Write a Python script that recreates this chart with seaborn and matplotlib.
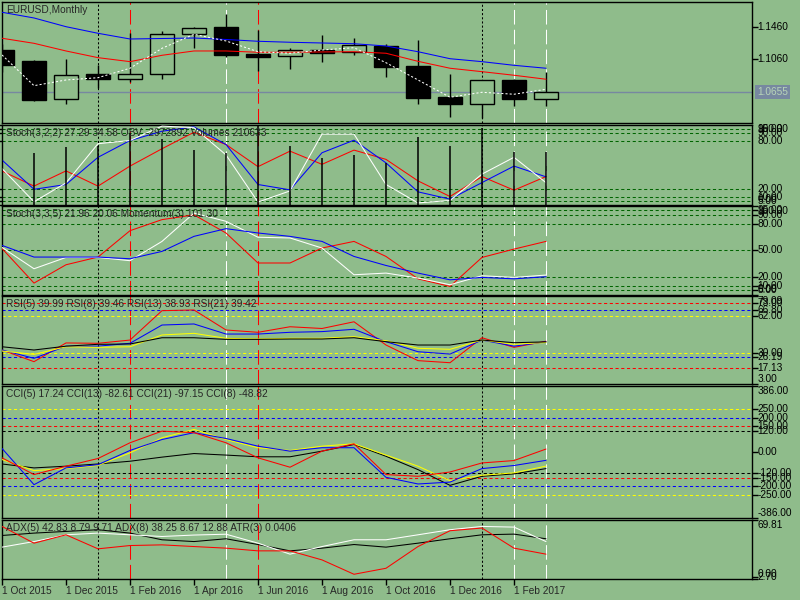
import numpy as np
import pandas as pd
import matplotlib
matplotlib.use('Agg')
import matplotlib.pyplot as plt
import seaborn as sns

# ---- data (EURUSD monthly) ----
months = ['Oct 2015', 'Nov 2015', 'Dec 2015', 'Jan 2016', 'Feb 2016', 'Mar 2016',
          'Apr 2016', 'May 2016', 'Jun 2016', 'Jul 2016', 'Aug 2016', 'Sep 2016',
          'Oct 2016', 'Nov 2016', 'Dec 2016', 'Jan 2017', 'Feb 2017', 'Mar 2017']

open_ = [1.1174, 1.1039, 1.0569, 1.0880, 1.0822, 1.0876, 1.1367, 1.1456, 1.1121,
         1.1097, 1.1170, 1.1146, 1.1223, 1.0978, 1.0594, 1.0515, 1.0806, 1.0577]
high = [1.1250, 1.1051, 1.1064, 1.0986, 1.1379, 1.1407, 1.1460, 1.1616, 1.1420,
        1.1202, 1.1358, 1.1318, 1.1244, 1.1297, 1.0880, 1.0810, 1.0822, 1.0904]
low = [1.0900, 1.0552, 1.0515, 1.0709, 1.0785, 1.0822, 1.1202, 1.1085, 1.0913,
       1.0945, 1.1027, 1.1109, 1.0847, 1.0512, 1.0356, 1.0336, 1.0491, 1.0491]
close = [1.0990, 1.0560, 1.0864, 1.0822, 1.0880, 1.1367, 1.1444, 1.1116, 1.1092,
         1.1170, 1.1141, 1.1232, 1.0969, 1.0589, 1.0515, 1.0802, 1.0573, 1.0655]

ma_slow = [1.1637, 1.1567, 1.1460, 1.1379, 1.1309, 1.1315, 1.1321, 1.1303, 1.1281,
           1.1269, 1.1260, 1.1251, 1.1223, 1.1153, 1.1067, 1.1031, 1.0986, 1.0950]
ma_mid = [1.1318, 1.1256, 1.1162, 1.1080, 1.1031, 1.1109, 1.1162, 1.1162, 1.1146,
          1.1146, 1.1150, 1.1153, 1.1134, 1.1035, 1.0950, 1.0908, 1.0864, 1.0815]
ma_fast = [1.1113, 1.0736, 1.0806, 1.0834, 1.0950, 1.1195, 1.1367, 1.1285, 1.1153,
           1.1134, 1.1174, 1.1202, 1.1018, 1.0806, 1.0594, 1.0655, 1.0631, 1.0692]
last_price = 1.0655

stoch1_main = [45, 3.4, 27, 76, 80, 98, 96, 62, 3, 17, 88, 88, 25, 2, 5, 38, 59, 27.29]
stoch1_signal = [55.6, 19, 25, 59, 80, 91.6, 97, 75, 25, 18.3, 64.7, 80.4, 52, 15.8, 6.7, 27.4, 48, 34.58]
obv_line = [41.9, 23, 42, 23, 48, 69.7, 90.3, 75, 47.3, 66.7, 50.2, 68, 56.4, 29.5, 10, 34.9, 17.9, 34.9]
volumes = [250000, 209000, 233000, 236000, 290000, 263000, 220000, 207000, 321000,
           236000, 189000, 200000, 166000, 274000, 236000, 307000, 211000, 210633]

stoch2_main = [53.2, 29.1, 41.9, 41.9, 38.2, 60, 92, 82.7, 64.7, 63.9, 52.5, 22.3, 24.2, 18.6, 11, 21.2, 19.3, 21.96]
stoch2_signal = [55.5, 42.3, 42.3, 42.3, 40.4, 48.7, 65.7, 74.4, 69.5, 65.7, 60, 43, 32.8, 24.2, 16.6, 19.3, 17.7, 20.06]
momentum = [52, 12.9, 33.6, 42.3, 72.1, 84.6, 90, 69.5, 35.6, 35.6, 52.5, 60, 43, 17.7, 9.1, 41.9, 51.3, 60]

rsi5 = [32.4, 22.3, 38.5, 38.2, 41, 66.4, 67, 49.7, 47.7, 52.5, 51, 56.8, 36.7, 23.2, 21.4, 43, 34.7, 39.99]
rsi8 = [32.4, 25.2, 35.7, 35.7, 38.2, 54, 54.9, 46.2, 46.2, 47.7, 48.3, 50.3, 39.6, 30.9, 28.9, 41, 35.7, 39.46]
rsi13 = [31.5, 28.6, 35.2, 34.7, 35.2, 45.4, 46.8, 42.5, 41.9, 42.5, 42.5, 43.9, 40.4, 33.9, 33, 41, 37.3, 38.93]
rsi21 = [35.2, 32.4, 35.7, 37.3, 37.6, 43, 43, 41.6, 41.6, 41.9, 41.9, 43, 39.6, 36.7, 36.7, 41, 38.7, 39.42]

cci5 = [-34, -132, -83, -38, 54, 122, 113, 54, -34, -89, 5, 48, -132, -142, -117, -64, -50, 17.24]
cci8 = [21, -191, -93, -74, 9, 73, 113, 79, 34, 5, 25, 25, -148, -187, -176, -97, -79, -48.82]
cci13 = [-44, -109, -97, -78, -5, 83, 132, 73, 25, 9, 34, 48, -18, -83, -168, -136, -122, -82.61]
cci21 = [-70, -93, -83, -70, -54, -30, -9, -18, -28, -28, 5, 44, -25, -103, -195, -142, -128, -97.15]

adx_white = [37.7, 44.3, 52.3, 54.3, 52.3, 50.3, 52, 53, 42.4, 29.4, 38.4, 46.4, 46.4, 52.3, 58.3, 62.2, 61.4, 44.3]
adx_black = [51.5, 54.3, 56.3, 58.3, 54.3, 46.4, 44.3, 47.6, 40.8, 33.3, 36.5, 40.8, 37.7, 42.4, 47.6, 52.3, 53.1, 47.6]
adx_red = [62.2, 42.4, 52.3, 35.7, 39.6, 40.4, 38.4, 36.5, 33.3, 33.3, 22.6, 5.6, 12.7, 38.4, 57.1, 60.3, 36.5, 29.4]

# period separators drawn on the chart
sep_months = ['Jan 2016', 'Feb 2016', 'May 2016', 'Jun 2016', 'Jan 2017', 'Feb 2017', 'Mar 2017']
sep_colors = ['black', 'red', 'white', 'red', 'black', 'white', 'white']

idx = np.arange(len(months))

BG = '#8FBC8B'
GREEN_LVL = '#006400'
LW = 0.75
LONG = (0, (14, 5))
SHORT = (0, (3, 2.5))
DOT = (0, (2, 2))

sns.set_style('ticks')
plt.rcParams['font.family'] = ['Liberation Sans', 'DejaVu Sans']
plt.rcParams['font.size'] = 7.3

fig = plt.figure(figsize=(8, 6), dpi=100, facecolor=BG)


def panel(top, bottom):
    ax = fig.add_axes([2 / 800, 1 - bottom / 600, 750 / 800, (bottom - top) / 600])
    ax.set_facecolor(BG)
    ax.set_xlim(0, 750 / 32)
    for s in ax.spines.values():
        s.set_color('black')
        s.set_linewidth(1)
    ax.tick_params(axis='x', bottom=False, labelbottom=False)
    for m, c in zip(sep_months, sep_colors):
        ls = DOT if c == 'black' else LONG
        ax.axvline(months.index(m), color=c, lw=LW, ls=ls, zorder=0.5)
    return ax


def line(ax, y, color, ls='-'):
    sns.lineplot(x=idx, y=y, ax=ax, color=color, lw=LW, linestyle=ls, legend=False, zorder=3)
    ax.set_xlabel('')
    ax.set_ylabel('')


def right_labels(ax, vals, lo, hi, fmt='%.2f'):
    ax.set_ylim(lo, hi)
    ax.yaxis.tick_right()
    ax.set_yticks(vals)
    ax.tick_params(axis='y', right=True, left=False, labelright=False, labelleft=False,
                   length=4, width=1, direction='out', color='black')
    tr = ax.get_yaxis_transform()
    for v in vals:
        va = 'top' if v == hi else ('bottom' if v == lo else 'center')
        ax.text(1.007, v, fmt % v, transform=tr, ha='left', va=va, color='black', clip_on=False)


def header(ax, txt):
    ax.annotate(txt, xy=(0, 1), xycoords='axes fraction', xytext=(4, -3),
                textcoords='offset pixels', ha='left', va='top', zorder=10)


def levels(ax, vals, color):
    for v in vals:
        ax.axhline(v, color=color, lw=LW, ls=SHORT, zorder=1)


# ---- main price panel ----
ax1 = panel(2, 123)
right_labels(ax1, [1.1460, 1.1060], 1.0278, 1.1763, fmt='%.4f')
ax1.axhline(last_price, color='#7788A0', lw=1, zorder=1)
ax1.text(1.007, last_price, '%.4f' % last_price, transform=ax1.get_yaxis_transform(),
         ha='left', va='center', color='#B8D4B8', clip_on=False,
         bbox=dict(boxstyle='square,pad=0.2', fc='#7788A0', ec='none'))
ax1.vlines(idx, low, high, color='black', lw=1, zorder=2)
o = np.array(open_)
c = np.array(close)
ax1.bar(idx, np.abs(c - o), bottom=np.minimum(o, c), width=0.72,
        color=np.where(c < o, 'black', BG), edgecolor='black', linewidth=1, zorder=2.5)
line(ax1, ma_slow, '#0000FF')
line(ax1, ma_mid, '#FF0000')
line(ax1, ma_fast, 'white', ls=DOT)
header(ax1, 'EURUSD,Monthly')

# ---- Stoch(3,2,2) / OBV / Volumes ----
ax2 = panel(124.5, 204.5)
right_labels(ax2, [100, 95, 90, 80, 20, 10, 5, 0], 0, 100)
levels(ax2, [95, 90, 80, 20, 10, 5], GREEN_LVL)
line(ax2, obv_line, '#FF0000')
line(ax2, stoch1_signal, '#0000FF')
line(ax2, stoch1_main, 'white')
ax2v = ax2.twinx()
ax2v.set_xlim(0, 750 / 32)
ax2v.set_ylim(0, 323000)
ax2v.vlines(idx, 0, volumes, color='black', lw=1.1)
ax2v.set_axis_off()
header(ax2v, 'Stoch(3,2,2) 27.29 34.58 OBV -2972892 Volumes 210633')

# ---- Stoch(3,3,5) / Momentum ----
ax3 = panel(206, 294.5)
right_labels(ax3, [100, 95, 90, 80, 50, 20, 10, 5, 0], 0, 100)
levels(ax3, [95, 90, 80, 50, 20, 10, 5], GREEN_LVL)
line(ax3, momentum, '#FF0000')
line(ax3, stoch2_main, 'white')
line(ax3, stoch2_signal, '#0000FF')
header(ax3, 'Stoch(3,3,5) 21.96 20.06 Momentum(3) 101.30')

# ---- RSI ----
ax4 = panel(296, 384)
right_labels(ax4, [79.09, 73.00, 66.80, 62.00, 30.00, 26.19, 17.13, 3.00], 3.00, 79.09)
levels(ax4, [73.00, 17.13], '#FF0000')
levels(ax4, [66.80, 26.19], '#0000FF')
levels(ax4, [62.00, 30.00], '#FFFF00')
line(ax4, rsi5, '#FF0000')
line(ax4, rsi8, '#0000FF')
line(ax4, rsi13, '#FFFF00')
line(ax4, rsi21, 'black')
header(ax4, 'RSI(5) 39.99 RSI(8) 39.46 RSI(13) 38.93 RSI(21) 39.42')

# ---- CCI ----
ax5 = panel(386, 518)
right_labels(ax5, [386, 250, 200, 150, 120, 0, -120, -150, -200, -250, -386], -386, 386)
levels(ax5, [250, -250], '#FFFF00')
levels(ax5, [200, -200], '#0000FF')
levels(ax5, [150, -150], '#FF0000')
levels(ax5, [120, -120], 'black')
line(ax5, cci21, 'black')
line(ax5, cci13, '#FFFF00')
line(ax5, cci8, '#0000FF')
line(ax5, cci5, '#FF0000')
header(ax5, 'CCI(5) 17.24 CCI(13) -82.61 CCI(21) -97.15 CCI(8) -48.82')

# ---- ADX / ATR ----
ax6 = panel(520, 579)
right_labels(ax6, [69.81, 2.70, 0.00], 0.00, 69.81)
line(ax6, adx_black, 'black')
line(ax6, adx_white, 'white')
line(ax6, adx_red, '#FF0000')
header(ax6, 'ADX(5) 42.83 8.79 9.71 ADX(8) 38.25 8.67 12.88 ATR(3) 0.0406')

ax6.tick_params(axis='x', bottom=True, labelbottom=True, length=4, width=1,
                direction='out', color='black', pad=1)
ax6.set_xticks(idx[::2])
ax6.set_xticklabels(['1 ' + m for m in months[::2]], ha='left')

fig.savefig('out.png', dpi=100, facecolor=BG)
